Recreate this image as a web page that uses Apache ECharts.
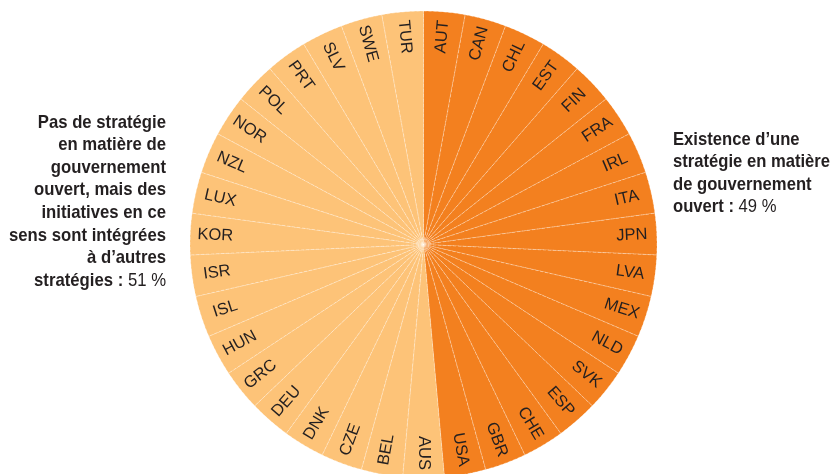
<!DOCTYPE html>
<html><head><meta charset="utf-8">
<script src="https://cdn.jsdelivr.net/npm/echarts@6/dist/echarts.min.js"></script>
<style>html,body{margin:0;padding:0;background:#fff}#c{width:835px;height:474px}</style>
</head><body><div id="c"></div>
<script>
// Countries clockwise from the top
const countries = ['AUT','CAN','CHL','EST','FIN','FRA','IRL','ITA','JPN','LVA','MEX','NLD','SVK','ESP','CHE','GBR','USA',
  'AUS','BEL','CZE','DNK','DEU','GRC','HUN','ISL','ISR','KOR','LUX','NZL','NOR','POL','PRT','SLV','SWE','TUR'];
// 1 = existence of a strategy, 0 = no strategy
const hasStrategy = [1,1,1,1,1,1,1,1,1,1,1,1,1,1,1,1,1,
  0,0,0,0,0,0,0,0,0,0,0,0,0,0,0,0,0,0];
const sliceValues = [1,1,1,1,1,1,1,1,1,1,1,1,1,1,1,1,1,1,1,1,1,1,1,1,1,1,1,1,1,1,1,1,1,1,1];

const DARK = '#F3801F', LIGHT = '#FDC378';
const total = sliceValues.reduce((a, b) => a + b, 0);
let acc = 0;
const labelRot = sliceValues.map(v => {
  const mid = (acc + v / 2) / total * 360; acc += v;   // clockwise from top
  let a = 90 - mid;                                      // math angle
  if (a < -90) a += 180;                                 // keep text readable on left half
  return a;
});

const data = countries.map((c, i) => ({
  name: c, value: sliceValues[i],
  itemStyle: { color: hasStrategy[i] ? DARK : LIGHT }
}));
const center = [423.5, 244.5];
const R = 233.5;
const NARROW = 'Liberation Sans, Arial, sans-serif';

const chart = echarts.init(document.getElementById('c'), null, {renderer: 'canvas'});
chart.setOption({
  animation: false,
  series: [
    {
      type: 'pie', center: center, radius: [0, R], startAngle: 90, clockwise: true,
      silent: true, label: {show: false}, labelLine: {show: false},
      itemStyle: {borderColor: 'rgba(255,255,255,0.55)', borderWidth: 0.7, borderType: [3, 2]},
      data: data
    },
    {
      type: 'pie', center: center, radius: [R * 0.76, R], startAngle: 90, clockwise: true,
      silent: true,
      itemStyle: {color: 'rgba(0,0,0,0)', borderWidth: 0},
      label: {
        show: true, position: 'inside',
        fontFamily: 'Liberation Sans, Arial, sans-serif', fontSize: 16.5, color: '#231F20',
        formatter: '{b}'
      },
      labelLine: {show: false},
      data: countries.map((c, i) => ({name: c, value: sliceValues[i], label: {rotate: labelRot[i]}}))
    }
  ],
  graphic: [
    {
      type: 'text', x: 166, y: 111, scaleX: 0.88,
      style: {
        align: 'right', verticalAlign: 'top',
        text: '{b|Pas de stratégie}\n{b|en matière de}\n{b|gouvernement}\n{b|ouvert, mais des}\n{b|initiatives en ce}\n{b|sens sont intégrées}\n{b|à d’autres}\n{b|stratégies :}{n| 51 %}',
        rich: {
          b: {fontFamily: NARROW, fontWeight: 'bold', fontSize: 19, lineHeight: 22.6, fill: '#231F20'},
          n: {fontFamily: NARROW, fontWeight: 'normal', fontSize: 19, lineHeight: 22.6, fill: '#231F20'}
        }
      }
    },
    {
      type: 'text', x: 673, y: 128, scaleX: 0.875,
      style: {
        align: 'left', verticalAlign: 'top',
        text: '{b|Existence d’une}\n{b|stratégie en matière}\n{b|de gouvernement}\n{b|ouvert :}{n| 49 %}',
        rich: {
          b: {fontFamily: NARROW, fontWeight: 'bold', fontSize: 19, lineHeight: 22.6, fill: '#231F20'},
          n: {fontFamily: NARROW, fontWeight: 'normal', fontSize: 19, lineHeight: 22.6, fill: '#231F20'}
        }
      }
    }
  ]
});
</script></body></html>
